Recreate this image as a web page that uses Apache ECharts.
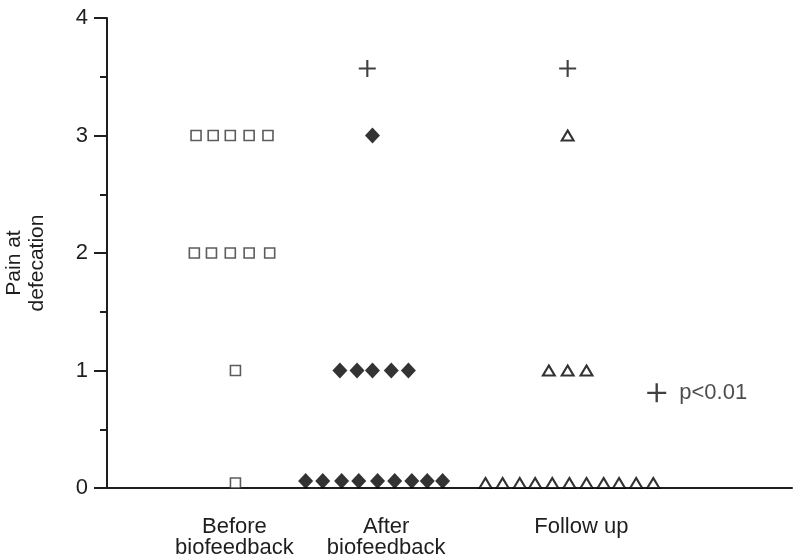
<!DOCTYPE html>
<html>
<head>
<meta charset="utf-8">
<script src="https://cdn.jsdelivr.net/npm/echarts@6/dist/echarts.min.js"></script>
<style>
  html, body { margin: 0; padding: 0; background: #fff; }
  #chart { width: 794px; height: 557px; }
</style>
</head>
<body>
<div id="chart"></div>
<script>
// horizontal positions are in arbitrary "slot" units along the x axis (0..40)
var beforeX = [5.2, 6.2, 7.2, 8.3, 9.4, 5.1, 6.1, 7.2, 8.3, 9.5, 7.5, 7.5];
var beforeY = [3, 3, 3, 3, 3, 2, 2, 2, 2, 2, 1, 0];

var afterX = [15.5, 13.6, 14.6, 15.5, 16.6, 17.6, 11.6, 12.6, 13.7, 14.7, 15.8, 16.8, 17.8, 18.7, 19.6];
var afterY = [3, 1, 1, 1, 1, 1, 0, 0, 0, 0, 0, 0, 0, 0, 0];

var followX = [26.9, 25.8, 26.9, 28.0, 22.1, 23.1, 24.1, 25.0, 26.0, 27.0, 28.0, 29.0, 29.9, 30.9, 31.9];
var followY = [3, 1, 1, 1, 0, 0, 0, 0, 0, 0, 0, 0, 0, 0, 0];

// significance markers (+)
var plusX = [15.2, 26.9];
var plusY = [3.57, 3.57];
var keyX = 32.1;
var keyY = 0.81;
var keyText = 'p<0.01';

var groupNames = ['Before\nbiofeedback', 'After\nbiofeedback', 'Follow up'];
var groupLabelX = [7.44, 16.3, 27.7];

var INK = '#1e1e1e';
var FONT = "'Liberation Sans', Arial, Helvetica, sans-serif";
var PLUS = 'path://M7,0 H9 V7 H16 V9 H9 V16 H7 V9 H0 V7 H7 Z';

function makeData(xs, ys, lift) {
    var out = [];
    for (var i = 0; i < xs.length; i++) {
        var d = { value: [xs[i], ys[i]] };
        if (ys[i] === 0) d.symbolOffset = [0, -lift];
        out.push(d);
    }
    return out;
}

var chart = echarts.init(document.getElementById('chart'));

var option = {
    animation: false,
    backgroundColor: '#fff',
    textStyle: { fontFamily: FONT },
    grid: { left: 107, right: 2, top: 18, bottom: 69, containLabel: false, outerBoundsMode: 'none' },
    xAxis: {
        type: 'value',
        min: 0,
        max: 40,
        axisLine: { show: true, onZero: false, lineStyle: { color: INK, width: 2 } },
        axisTick: { show: false },
        axisLabel: { show: false },
        splitLine: { show: false }
    },
    yAxis: {
        type: 'value',
        min: 0,
        max: 4,
        interval: 1,
        name: 'Pain at\ndefecation',
        nameLocation: 'middle',
        nameRotate: 90,
        nameGap: 58,
        nameTextStyle: { fontSize: 21, lineHeight: 23, color: INK, fontFamily: FONT, padding: [0, 20, 0, 0] },
        axisLine: { show: true, lineStyle: { color: INK, width: 2 } },
        axisTick: { show: true, length: 13, lineStyle: { color: INK, width: 2 } },
        minorTick: { show: true, splitNumber: 2, length: 7, lineStyle: { color: INK, width: 2 } },
        axisLabel: { margin: 19, fontSize: 22, color: INK, fontFamily: FONT },
        splitLine: { show: false }
    },
    series: [{
        name: 'Before',
        type: 'scatter',
        symbol: 'rect',
        symbolSize: 10,
        itemStyle: { color: '#fff', borderColor: '#333', borderWidth: 1.6 },
        data: makeData(beforeX, beforeY, 5)
    }, {
        name: 'After',
        type: 'scatter',
        symbol: 'diamond',
        symbolSize: [15, 16],
        itemStyle: { color: '#000' },
        data: makeData(afterX, afterY, 7)
    }, {
        name: 'Follow up',
        type: 'scatter',
        symbol: 'triangle',
        symbolSize: [12, 10],
        itemStyle: { color: '#fff', borderColor: '#000', borderWidth: 2 },
        data: makeData(followX, followY, 5)
    }, {
        name: 'Significant',
        type: 'scatter',
        symbol: PLUS,
        symbolSize: 17,
        itemStyle: { color: '#111' },
        data: plusX.map(function (x, i) { return [x, plusY[i]]; })
    }, {
        name: 'Key',
        type: 'scatter',
        symbol: PLUS,
        symbolSize: 19,
        itemStyle: { color: '#111' },
        label: {
            show: true,
            position: 'right',
            distance: 13,
            formatter: keyText,
            fontSize: 22,
            color: INK,
            fontFamily: FONT
        },
        data: [[keyX, keyY]]
    }]
};

chart.setOption(option);

// group names under the x axis, placed through the axis scale
var labels = groupNames.map(function (name, i) {
    var p = chart.convertToPixel({ gridIndex: 0 }, [groupLabelX[i], 0]);
    return {
        type: 'text',
        x: p[0],
        y: 516,
        style: {
            text: name,
            textAlign: 'center',
            textVerticalAlign: 'top',
            fontSize: 22,
            lineHeight: 21,
            fontFamily: FONT,
            fill: INK
        }
    };
});

chart.setOption({ graphic: labels });
</script>
</body>
</html>
